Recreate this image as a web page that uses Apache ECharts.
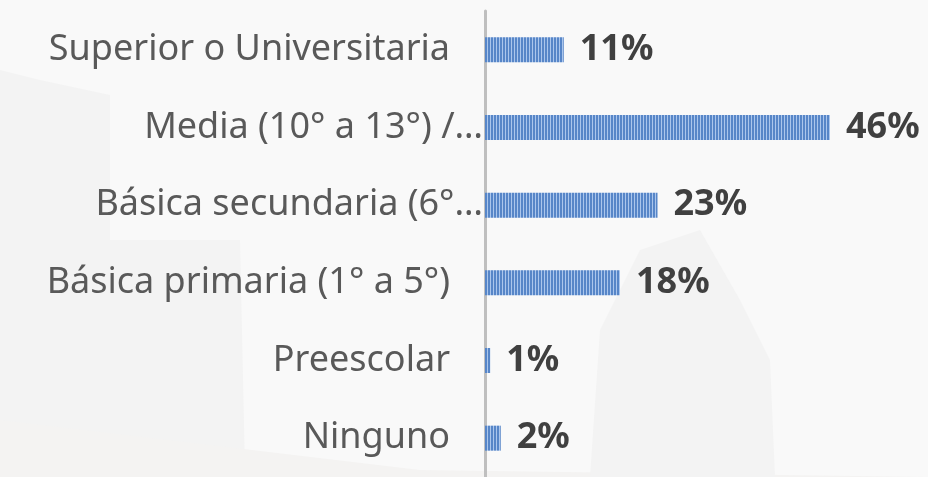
<!DOCTYPE html>
<html>
<head>
<meta charset="utf-8">
<script src="https://cdn.jsdelivr.net/npm/echarts@6/dist/echarts.min.js"></script>
<style>
  html, body { margin: 0; padding: 0; background: #f9f9f9; }
  #main { width: 928px; height: 477px; }
</style>
</head>
<body>
<div id="main"></div>
<script>
// niveles educativos (de abajo hacia arriba, como los dibuja el eje)
const categories = [
    'Ninguno',
    'Preescolar',
    'Básica primaria (1° a 5°)',
    'Básica secundaria (6°…',
    'Media (10° a 13°) /…',
    'Superior o Universitaria'
];
const values = [2.1, 0.7, 18, 23, 46, 10.5];
// etiquetas que se salen hacia el eje
const longLabels = ['Básica secundaria (6°…', 'Media (10° a 13°) /…'];

// textura de rayas verticales para las barras
function stripePattern() {
    const c = document.createElement('canvas');
    c.width = 3;
    c.height = 4;
    const ctx = c.getContext('2d');
    ctx.fillStyle = '#5786c8';
    ctx.fillRect(0, 0, 3, 4);
    ctx.fillStyle = '#abc6ec';
    ctx.fillRect(1, 0, 1, 4);
    return c;
}

const options = {
    backgroundColor: '#f9f9f9',
    animation: false,
    graphic: [
        // fondo: silueta muy tenue de la iglesia
        { type: 'polygon', z: -10, shape: { points: [[0, 70], [40, 80], [110, 95], [110, 240], [240, 240], [245, 470], [0, 477]] }, style: { fill: '#f3f3f3' } },
        { type: 'polygon', z: -10, shape: { points: [[0, 420], [420, 470], [928, 477], [0, 477]] }, style: { fill: '#f4f3f2' } },
        { type: 'polygon', z: -10, shape: { points: [[640, 250], [700, 230], [740, 300], [770, 360], [775, 477], [590, 477], [600, 330]] }, style: { fill: '#f3f3f3' } }
    ],
    grid: {
        left: 485,
        right: 68,
        top: 11,
        bottom: -7
    },
    xAxis: {
        type: 'value',
        min: 0,
        max: 50,
        show: false
    },
    yAxis: {
        type: 'category',
        data: categories,
        axisTick: { show: false },
        axisLine: {
            show: true,
            lineStyle: { color: '#bfbfbf', width: 3 }
        },
        axisLabel: {
            margin: 35,
            fontFamily: 'Noto Sans',
            fontSize: 36,
            color: '#595959',
            formatter: function (v) {
                return longLabels.indexOf(v) >= 0 ? '{l|' + v + '}' : v;
            },
            rich: {
                l: {
                    fontFamily: 'Noto Sans',
                    fontSize: 36,
                    color: '#595959',
                    padding: [0, -33, 0, 0]
                }
            }
        },
        splitLine: { show: false }
    },
    series: [
        {
            type: 'bar',
            data: values,
            barWidth: 25,
            itemStyle: {
                color: { image: stripePattern(), repeat: 'repeat' }
            },
            label: {
                show: true,
                position: 'right',
                distance: 16,
                fontFamily: 'Noto Sans',
                fontWeight: 'bold',
                fontSize: 36,
                color: '#404040',
                formatter: function (p) {
                    return Math.round(p.value) + '%';
                }
            }
        }
    ]
};

const E = echarts.init(document.getElementById('main'));
window.onresize = function () {
    E.resize();
};
E.setOption(options);
</script>
</body>
</html>
